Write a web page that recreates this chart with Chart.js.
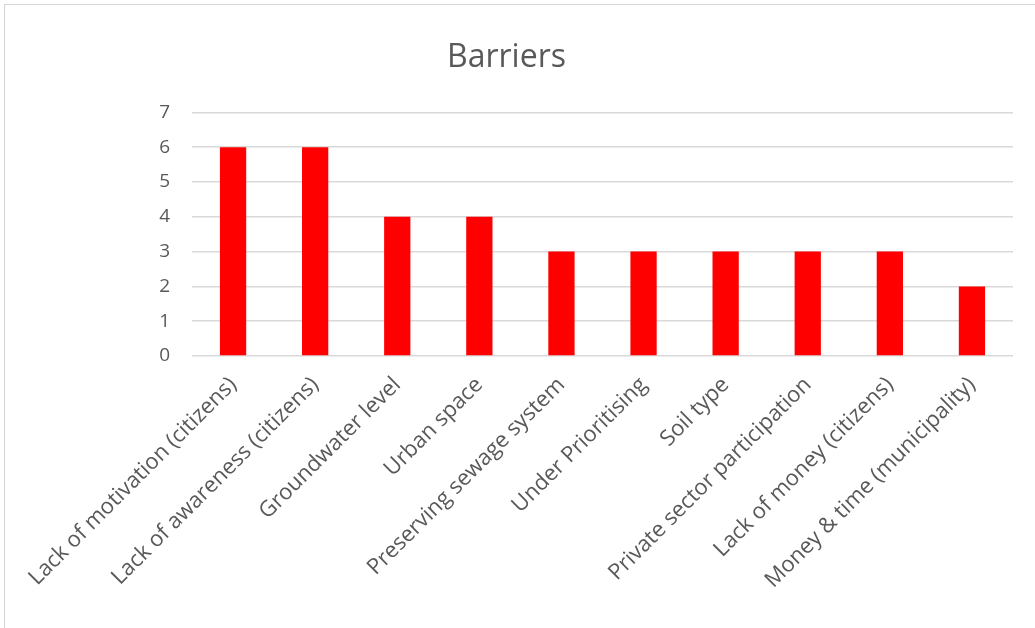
<!DOCTYPE html>
<html>
<head>
<meta charset="utf-8">
<script src="https://cdn.jsdelivr.net/npm/chart.js@4/dist/chart.umd.min.js"></script>
<style>
  html, body { margin: 0; padding: 0; background: #fff; overflow: hidden; }
  #frame { position: absolute; left: 4px; top: 4px; width: 1100px; height: 700px; border: 1px solid #d6d6d6; }
  #wrap { position: absolute; left: 0; top: 0; width: 1035px; height: 628px; }
</style>
</head>
<body>
<div id="frame"></div>
<div id="wrap"><canvas id="barChart" width="1035" height="628"></canvas></div>
<script>
// Dados do gráfico
const categories = [
  "Lack of motivation (citizens)",
  "Lack of awareness (citizens)",
  "Groundwater level",
  "Urban space",
  "Preserving sewage system",
  "Under Prioritising",
  "Soil type",
  "Private sector participation",
  "Lack of money (citizens)",
  "Money & time (municipality)"
];
const counts = [6, 6, 4, 4, 3, 3, 3, 3, 3, 2];
const yTicks = [0, 1, 2, 3, 4, 5, 6, 7];

const textGrey = "#595959";
const fontName = "'Open Sans', Lato, sans-serif";

const ctx = document.getElementById("barChart").getContext("2d");

new Chart(ctx, {
  type: "bar",
  data: {
    labels: categories,
    datasets: [{
      label: "Barriers",
      data: counts,
      backgroundColor: "#ff0000",
      borderWidth: 0,
      barPercentage: 0.32,
      categoryPercentage: 1
    }]
  },
  options: {
    responsive: false,
    animation: false,
    layout: { padding: { left: 0, right: 22, top: 0, bottom: 0 } },
    plugins: {
      legend: { display: false },
      tooltip: { enabled: false },
      title: {
        display: true,
        text: "Barriers",
        color: textGrey,
        font: { family: fontName, size: 32, weight: "normal" },
        padding: { top: 39, bottom: 35 }
      }
    },
    scales: {
      x: {
        grid: { display: false },
        border: { display: false },
        ticks: {
          color: textGrey,
          font: { family: fontName, size: 22 },
          minRotation: 45,
          maxRotation: 45,
          autoSkip: false,
          padding: 8
        },
        afterFit: (s) => {
          s.height = 272;
          s.paddingLeft = 0;
          s.paddingRight = 0;
        }
      },
      y: {
        min: 0,
        max: 7,
        afterBuildTicks: (s) => { s.ticks = yTicks.map(v => ({ value: v })); },
        grid: { color: "#d9d9d9", lineWidth: 1.5, drawTicks: false },
        border: { display: false },
        ticks: {
          color: textGrey,
          font: { family: fontName, size: 19 },
          padding: 22
        },
        afterFit: (s) => { s.width = 192; }
      }
    }
  }
});
</script>
</body>
</html>
